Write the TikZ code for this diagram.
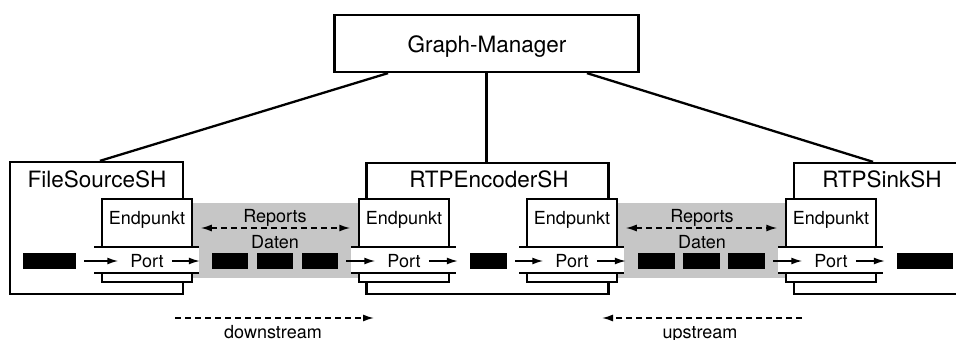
\documentclass[tikz,border=0pt]{standalone}
\usepackage{fontspec}
\setmainfont{TeX Gyre Heros}
\usetikzlibrary{arrows.meta}
\begin{document}
\begin{tikzpicture}[x=1pt,y=-1pt,
  big/.style={font=\fontsize{22.5}{26}\selectfont,inner sep=0pt},
  small/.style={font=\fontsize{18}{21}\selectfont,inner sep=0pt},
  frame/.style={draw,line width=2.3pt,fill=white,inner sep=0pt},
  conn/.style={line width=2.3pt},
  epbox/.style={draw,line width=1.5pt,fill=white,inner sep=0pt,minimum width=90pt,minimum height=83pt},
  blk/.style={fill=black,inner sep=0pt,minimum height=16pt},
  tip/.tip={Latex[length=11pt,width=7pt]},
  flow/.style={line width=1.5pt,-tip,shorten <=8pt,shorten >=12pt},
  rep/.style={line width=1.5pt,dash pattern=on 6pt off 4pt,tip-tip,shorten <=8pt,shorten >=8pt},
  dir/.style={line width=1.5pt,dash pattern=on 6pt off 4pt,-tip},
  band/.style={line width=1.5pt},
  % endpoint with its port band
  endpoint/.pic={
    \node[epbox] (-box) at (0,0) {};
    \fill[white] (-53,6.5) rectangle (52,32.5);
    \draw[band] (-53,6.5) -- (52,6.5);
    \draw[band] (-53,32.5) -- (52,32.5);
    \node[small,anchor=base] (-label) at (0,-16.5) {Endpunkt};
    \node[small,text depth=0pt] (-port) at (0,20.5) {Port};
  }
]
\clip (0,0) rectangle (956,340);

% stream handlers
\node[frame,minimum width=173pt,minimum height=132pt] (fs) at (96.5,228) {};
\node[frame,minimum width=242pt,minimum height=131pt] (enc) at (487.5,228.5) {};
\node[frame,minimum width=180pt,minimum height=131pt,anchor=west] (sink) at (793,228.5) {};

\node[big,anchor=base] (fsT) at (97,187) {FileSourceSH};
\node[big,anchor=base] (encT) at (489,187) {RTPEncoderSH};
\node[big,anchor=base] (sinkT) at (882,187) {RTPSinkSH};

% manager
\node[frame,minimum width=304pt,minimum height=57pt] (gm) at (486.5,43.5) {};
\node[big,anchor=base] (gmT) at (487,52) {Graph-Manager};
\draw[conn] ([xshift=-98.5pt]gm.south) -- ([xshift=3.5pt]fs.north);
\draw[conn] (gm.south) -- (gm.south |- enc.north);
\draw[conn] ([xshift=100.5pt]gm.south) -- ([xshift=80pt]sink.north west);

% transport channels
\fill[gray!45] (190,203) rectangle (365,278);
\fill[gray!45] (615,203) rectangle (787,278);

% endpoints
\pic (e1) at (147,240.5) {endpoint};
\pic (e2) at (404,240.5) {endpoint};
\pic (e3) at (572,240.5) {endpoint};
\pic (e4) at (831,240.5) {endpoint};

% data packets
\node[blk,minimum width=53pt] (b0) at (49.5,261) {};
\node[blk,minimum width=36pt] (b1) at (230,261) {};
\node[blk,minimum width=36pt] (b2) at (275,261) {};
\node[blk,minimum width=36pt] (b3) at (320,261) {};
\node[blk,minimum width=37pt] (bm) at (488.5,261) {};
\node[blk,minimum width=37pt] (b4) at (656.5,261) {};
\node[blk,minimum width=37pt] (b5) at (701.5,261) {};
\node[blk,minimum width=37pt] (b6) at (746.5,261) {};
\node[blk,minimum width=56pt] (b7) at (925,261) {};

% data flow
\draw[flow] (b0) -- (e1-port);
\draw[flow] (e1-port) -- (b1);
\draw[flow] (b3) -- (e2-port);
\draw[flow] (e2-port) -- (bm);
\draw[flow] (bm) -- (e3-port);
\draw[flow] (e3-port) -- (b4);
\draw[flow] (b6) -- (e4-port);
\draw[flow] (e4-port) -- (b7);

% reports and data labels
\draw[rep] ([yshift=12.5pt]e1-box.east) -- ([yshift=12.5pt]e2-box.west);
\draw[rep] ([yshift=12.5pt]e3-box.east) -- ([yshift=12.5pt]e4-box.west);
\node[small,anchor=base] (r1) at (275,222) {Reports};
\node[small,anchor=base] (d1) at (275,248) {Daten};
\node[small,anchor=base] (r2) at (702,222) {Reports};
\node[small,anchor=base] (d2) at (702,248) {Daten};

% directions
\coordinate (dsA) at (175,318);
\coordinate (dsB) at (374,318);
\coordinate (usA) at (802,318);
\coordinate (usB) at (602,318);
\draw[dir] (dsA) -- (dsB);
\draw[dir] (usA) -- (usB);
\node[small,anchor=base] (ds) at (273,338) {downstream};
\node[small,anchor=base] (us) at (700,338) {upstream};
\end{tikzpicture}
\end{document}
